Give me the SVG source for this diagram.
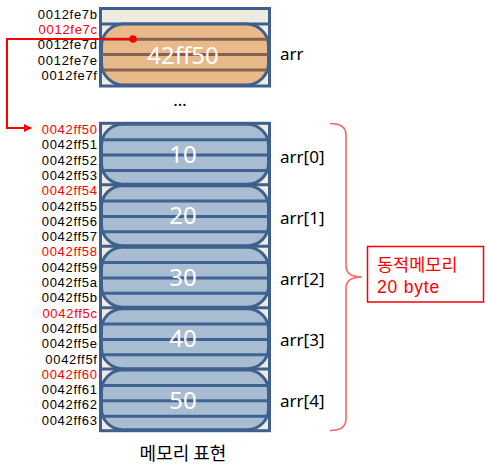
<svg xmlns="http://www.w3.org/2000/svg" width="488" height="473" viewBox="0 0 488 473">
<style>
.addr{font-family:"Liberation Sans",Arial,sans-serif;font-size:13px;letter-spacing:0.7px;text-anchor:end;fill:#000}
.red{fill:#FF0000}
.lbl{font-family:"Noto Sans","Liberation Sans",sans-serif;font-size:17px;fill:#000}
.val{font-family:"Noto Sans","Liberation Sans",sans-serif;font-size:24px;fill:#fff;text-anchor:middle}
.kr{font-family:"Noto Sans CJK KR",sans-serif}
.frame{fill:#EEECE1;stroke:#3F5F8C;stroke-width:3}
.bpill{fill:#A9BDD2;stroke:#3F5F8C;stroke-width:3}
.opill{fill:#E9B98A;stroke:#3F5F8C;stroke-width:3}
.bs{stroke:#3F6494;stroke-width:3}
.os{stroke:#836350;stroke-width:3}
.div{stroke:#3F5F8C;stroke-width:3}
</style>
<defs>
<marker id="ah" markerWidth="8" markerHeight="8" refX="7" refY="4" orient="auto" markerUnits="userSpaceOnUse">
<path d="M0,0 L8,4 L0,8 Z" fill="#FF0000"/>
</marker>
</defs>

<g id="pointer-block">
<rect class="frame" x="100.5" y="8.5" width="169" height="77.5"/>
<line class="div" x1="100.5" y1="24" x2="269.5" y2="24"/>
<rect class="opill" x="101.5" y="24" width="167" height="61" rx="22"/>
<line class="os" x1="103" y1="39.3" x2="267" y2="39.3"/>
<line class="os" x1="102" y1="54.5" x2="268" y2="54.5"/>
<line class="os" x1="103" y1="70" x2="267" y2="70"/>
<text class="val" x="183" y="63.5">42ff50</text>
<text class="addr" x="97.7" y="19">0012fe7b</text>
<text class="addr red" x="97.7" y="34.2">0012fe7c</text>
<text class="addr" x="97.7" y="49.4">0012fe7d</text>
<text class="addr" x="97.7" y="64.6">0012fe7e</text>
<text class="addr" x="97.7" y="79.8">0012fe7f</text>
<text class="lbl" x="280" y="60">arr</text>
</g>

<text class="lbl" x="180" y="106" text-anchor="middle">…</text>

<g id="array-block">
<rect class="frame" x="100.5" y="123.3" width="169" height="307.4"/>
<line class="div" x1="100.5" y1="184.75" x2="269.5" y2="184.75"/>
<line class="div" x1="100.5" y1="246.2" x2="269.5" y2="246.2"/>
<line class="div" x1="100.5" y1="307.65" x2="269.5" y2="307.65"/>
<line class="div" x1="100.5" y1="369.1" x2="269.5" y2="369.1"/>
</g>

<g id="elem0">
<rect class="bpill" x="101.5" y="124.3" width="167" height="60" rx="21"/>
<line class="bs" x1="102" y1="139.7" x2="268" y2="139.7"/>
<line class="bs" x1="101.5" y1="155" x2="268.5" y2="155"/>
<line class="bs" x1="102" y1="170.4" x2="268" y2="170.4"/>
<text class="val" x="183" y="162.7">10</text>
<text class="lbl" x="280" y="162.5">arr[0]</text>
</g>
<g id="elem1">
<rect class="bpill" x="101.5" y="185.75" width="167" height="60" rx="21"/>
<line class="bs" x1="102" y1="201.1" x2="268" y2="201.1"/>
<line class="bs" x1="101.5" y1="216.5" x2="268.5" y2="216.5"/>
<line class="bs" x1="102" y1="231.8" x2="268" y2="231.8"/>
<text class="val" x="183" y="224.15">20</text>
<text class="lbl" x="280" y="223.7">arr[1]</text>
</g>
<g id="elem2">
<rect class="bpill" x="101.5" y="247.2" width="167" height="60" rx="21"/>
<line class="bs" x1="102" y1="262.6" x2="268" y2="262.6"/>
<line class="bs" x1="101.5" y1="277.9" x2="268.5" y2="277.9"/>
<line class="bs" x1="102" y1="293.3" x2="268" y2="293.3"/>
<text class="val" x="183" y="285.6">30</text>
<text class="lbl" x="280" y="284.9">arr[2]</text>
</g>
<g id="elem3">
<rect class="bpill" x="101.5" y="308.65" width="167" height="60" rx="21"/>
<line class="bs" x1="102" y1="324" x2="268" y2="324"/>
<line class="bs" x1="101.5" y1="339.4" x2="268.5" y2="339.4"/>
<line class="bs" x1="102" y1="354.7" x2="268" y2="354.7"/>
<text class="val" x="183" y="347.05">40</text>
<text class="lbl" x="280" y="346.1">arr[3]</text>
</g>
<g id="elem4">
<rect class="bpill" x="101.5" y="370.1" width="167" height="59.6" rx="21"/>
<line class="bs" x1="102" y1="385.5" x2="268" y2="385.5"/>
<line class="bs" x1="101.5" y1="400.8" x2="268.5" y2="400.8"/>
<line class="bs" x1="102" y1="416.2" x2="268" y2="416.2"/>
<text class="val" x="183" y="408.5">50</text>
<text class="lbl" x="280" y="407.3">arr[4]</text>
</g>

<g id="addresses">
<text class="addr red" x="97.7" y="134">0042ff50</text>
<text class="addr" x="97.7" y="149.3">0042ff51</text>
<text class="addr" x="97.7" y="164.6">0042ff52</text>
<text class="addr" x="97.7" y="179.9">0042ff53</text>
<text class="addr red" x="97.7" y="195.2">0042ff54</text>
<text class="addr" x="97.7" y="210.5">0042ff55</text>
<text class="addr" x="97.7" y="225.8">0042ff56</text>
<text class="addr" x="97.7" y="241.1">0042ff57</text>
<text class="addr red" x="97.7" y="256.4">0042ff58</text>
<text class="addr" x="97.7" y="271.7">0042ff59</text>
<text class="addr" x="97.7" y="287">0042ff5a</text>
<text class="addr" x="97.7" y="302.3">0042ff5b</text>
<text class="addr red" x="97.7" y="317.6">0042ff5c</text>
<text class="addr" x="97.7" y="332.9">0042ff5d</text>
<text class="addr" x="97.7" y="348.2">0042ff5e</text>
<text class="addr" x="97.7" y="363.5">0042ff5f</text>
<text class="addr red" x="97.7" y="378.8">0042ff60</text>
<text class="addr" x="97.7" y="394.1">0042ff61</text>
<text class="addr" x="97.7" y="409.4">0042ff62</text>
<text class="addr" x="97.7" y="424.7">0042ff63</text>
</g>

<g id="connectors">
<path d="M133,39 L7,39 L7,128 L31,128" fill="none" stroke="#FF0000" stroke-width="2" marker-end="url(#ah)"/>
<circle cx="133" cy="39" r="3.8" fill="#FF0000"/>
<path d="M330,123.5 Q346,123.5 346,135 L346,266 Q346,277 362,277 Q346,277 346,288 L346,419 Q346,430.5 330,430.5" fill="none" stroke="#FF6666" stroke-width="1.6"/>
</g>

<g id="dynamic-memory-note">
<rect x="367.5" y="246.5" width="116" height="55.5" fill="#fff" stroke="#FF0000" stroke-width="1.5"/>
<text class="kr" x="377" y="271" font-size="17.5" fill="#FF0000">동적메모리</text>
<text x="377" y="293" font-family="Liberation Sans, Arial, sans-serif" font-size="17.5" letter-spacing="0.8" fill="#FF0000">20 byte</text>
</g>

<text class="kr" x="183" y="460" font-size="18" text-anchor="middle" fill="#000">메모리 표현</text>
</svg>
